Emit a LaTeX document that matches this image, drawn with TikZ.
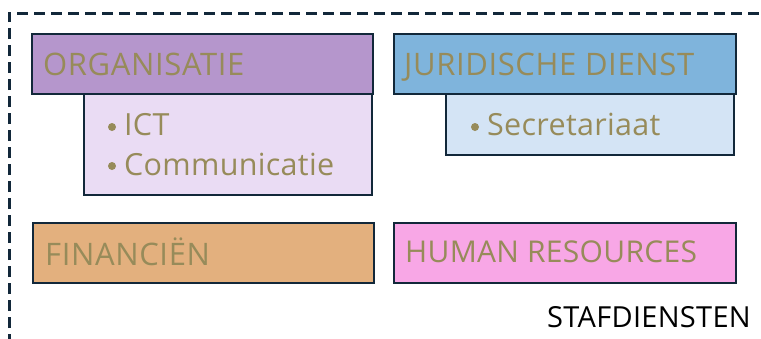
\documentclass[tikz,border=0pt]{standalone}
\usepackage{fontspec}
\setmainfont{Open Sans}
\definecolor{frame}{HTML}{12283A}
\definecolor{olive}{HTML}{978B5A}
\definecolor{orgdark}{HTML}{B596CC}
\definecolor{orglight}{HTML}{EADCF4}
\definecolor{jurdark}{HTML}{7FB4DC}
\definecolor{jurlight}{HTML}{D4E4F5}
\definecolor{fincol}{HTML}{E3B07E}
\definecolor{hrcol}{HTML}{F8A7E6}
\begin{document}
\begin{tikzpicture}[x=1pt,y=-1pt,
  unit/.style={draw=frame,line width=2.5pt,anchor=north west,inner sep=0pt,outer sep=0pt},
  head/.style={font=\fontsize{31}{32}\selectfont\addfontfeature{LetterSpace=2},text=olive,anchor=base west,inner sep=0pt},
  item/.style={font=\fontsize{30.5}{31}\selectfont\addfontfeature{LetterSpace=1},text=olive,anchor=base west,inner sep=0pt},
  dot/.style={circle,fill=olive,inner sep=0pt,minimum size=8pt}]
\useasboundingbox (0,0) rectangle (761,338);
% dashed outline of the staff services area
\coordinate (fr) at (770,13);
\coordinate (fc) at (9,13);
\coordinate (fb) at (9,345);
\draw[draw=frame,line width=3pt,dash pattern=on 11pt off 6pt] (fb) -- (fc) -- (fr);
% Organisatie
\node[unit,fill=orglight,minimum width=288pt,minimum height=101pt] (orgsub) at (84,94) {};
\node[unit,fill=orgdark,minimum width=341pt,minimum height=60pt] (org) at (32,34) {};
\node[head] (orgt) at (43,75) {ORGANISATIE};
\node[dot] (b1) at (112,127) {};
\node[item] (ict) at (124,135) {ICT};
\node[dot] (b2) at (112,166) {};
\node[item] (com) at (124,175) {Communicatie};
% Juridische dienst
\node[unit,fill=jurlight,minimum width=288pt,minimum height=61pt] (jursub) at (446,94) {};
\node[unit,fill=jurdark,minimum width=342pt,minimum height=60pt] (jur) at (394,34) {};
\node[head] (jurt) at (404,75) {JURIDISCHE DIENST};
\node[dot] (b3) at (475,127) {};
\node[item] (sec) at (487,135) {Secretariaat};
% Financien and HR
\node[unit,fill=fincol,minimum width=341pt,minimum height=60pt] (fin) at (33,223) {};
\node[head] (fint) at (45,265) {FINANCIËN};
\node[unit,fill=hrcol,minimum width=342pt,minimum height=60pt] (hr) at (394,223) {};
\node[head,font=\fontsize{30}{31}\selectfont\addfontfeature{LetterSpace=1}] (hrt) at (405,262) {HUMAN RESOURCES};
% caption
\node[font=\fontsize{29}{30}\selectfont\addfontfeature{LetterSpace=1},anchor=base east,inner sep=0pt] (cap) at (751,327) {STAFDIENSTEN};
\end{tikzpicture}
\end{document}
